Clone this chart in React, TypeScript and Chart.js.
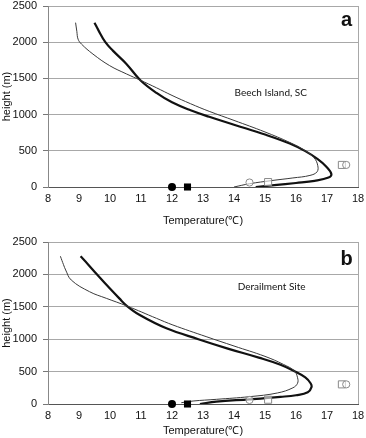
import React, { useEffect, useRef } from "react";
import { Chart, registerables } from "chart.js";

Chart.register(...registerables);

// ---- axis settings ----
const xMin = 8;
const xMax = 18;
const xStep = 1;
const yMin = 0;
const yMax = 2500;
const yStep = 500;
const xTitle = "Temperature(℃)";
const yTitle = "height (m)";

// ---- panel a: Beech Island, SC ----
const aThinT = [8.89, 8.93, 8.97, 9.08, 9.45, 9.99, 10.53, 10.98, 11.5, 12.0, 12.6, 13.2, 14.0, 15.0, 15.8, 16.3, 16.58, 16.7, 16.68, 16.45, 15.9, 15.2, 14.5, 14.0];
const aThinH = [2270, 2150, 2042, 1974, 1836, 1676, 1562, 1475, 1370, 1265, 1150, 1045, 920, 760, 615, 500, 405, 300, 210, 160, 125, 88, 45, 0];
const aThickT = [9.5, 9.62, 9.85, 10.1, 10.53, 10.98, 11.5, 12.0, 12.6, 13.2, 14.0, 15.0, 15.8, 16.3, 16.7, 16.98, 17.14, 17.05, 16.6, 16.0, 15.3, 14.7];
const aThickH = [2270, 2170, 2000, 1880, 1700, 1475, 1300, 1170, 1060, 970, 860, 725, 600, 495, 385, 280, 180, 130, 85, 55, 25, 0];
const aOpenCircleT = [14.5, 17.62];
const aOpenCircleH = [62, 305];
const aOpenSquareT = [15.1, 17.48];
const aOpenSquareH = [68, 305];

// ---- panel b: Derailment Site ----
const bThinT = [8.4, 8.5, 8.57, 8.75, 9.34, 9.88, 10.55, 11.5, 12.03, 13.1, 14.0, 15.0, 15.6, 15.95, 16.05, 16.05, 15.9, 15.4, 14.5, 13.43, 12.68, 12.3];
const bThinH = [2280, 2150, 2068, 1913, 1733, 1631, 1512, 1322, 1219, 1040, 895, 735, 610, 510, 405, 320, 250, 170, 113, 72, 46, 20];
const bThickT = [9.05, 9.3, 9.56, 9.99, 10.3, 10.55, 10.96, 11.82, 12.85, 13.8, 14.8, 15.5, 15.95, 16.3, 16.47, 16.5, 16.38, 16.0, 15.5, 14.5, 13.43, 12.9];
const bThickH = [2280, 2150, 2010, 1785, 1630, 1512, 1373, 1168, 1000, 855, 715, 605, 505, 410, 320, 260, 180, 135, 110, 72, 36, 0];
const bOpenCircleT = [14.5, 17.62];
const bOpenCircleH = [62, 303];
const bOpenSquareT = [15.1, 17.48];
const bOpenSquareH = [66, 303];

// ---- observed surface values (both panels) ----
const solidCircleT = [12.0];
const solidCircleH = [0];
const solidSquareT = [12.5];
const solidSquareH = [0];

// ---- labels ----
const aLetter = "a";
const aSite = "Beech Island, SC";
const bLetter = "b";
const bSite = "Derailment Site";
const aLetterPos = [17.63, 2225];
const aSitePos = [14.02, 1305];
const bLetterPos = [17.63, 2145];
const bSitePos = [14.12, 1810];

const zip = (t: number[], h: number[]) => t.map((v, i) => ({ x: v, y: h[i] }));

const panelTextPlugin = {
  id: "panelText",
  afterDatasetsDraw(chart: any, _args: any, opts: any) {
    const { ctx } = chart;
    const x = chart.scales.x;
    const y = chart.scales.y;
    ctx.save();
    ctx.fillStyle = "#111";
    ctx.font = 'bold 20px "Liberation Sans", Arial, sans-serif';
    ctx.textAlign = "center";
    ctx.textBaseline = "alphabetic";
    ctx.fillText(opts.letter, x.getPixelForValue(opts.letterPos[0]), y.getPixelForValue(opts.letterPos[1]));
    ctx.font = '10px Lato, "Open Sans", sans-serif';
    ctx.textAlign = "left";
    ctx.textBaseline = "middle";
    ctx.fillText(opts.site, x.getPixelForValue(opts.sitePos[0]), y.getPixelForValue(opts.sitePos[1]));
    ctx.restore();
  },
};

type PanelProps = {
  height: number;
  padTop: number;
  plotBottom: number;
  thinT: number[];
  thinH: number[];
  thickT: number[];
  thickH: number[];
  ocT: number[];
  ocH: number[];
  osT: number[];
  osH: number[];
  letter: string;
  letterPos: number[];
  site: string;
  sitePos: number[];
};

const tickFont = { family: '"Liberation Sans", Arial, sans-serif', size: 11 };

function Panel(p: PanelProps) {
  const ref = useRef<HTMLCanvasElement>(null);
  useEffect(() => {
    const xHeight = p.height - p.plotBottom;
    const chart = new Chart(ref.current as HTMLCanvasElement, {
      type: "scatter",
      data: {
        datasets: [
          {
            data: zip(solidCircleT, solidCircleH),
            pointStyle: "circle",
            pointRadius: 4,
            backgroundColor: "#000",
            borderColor: "#000",
            borderWidth: 0,
            clip: false,
            order: 0,
          },
          {
            data: zip(solidSquareT, solidSquareH),
            pointStyle: "rect",
            pointRadius: 5,
            backgroundColor: "#000",
            borderColor: "#000",
            borderWidth: 0,
            clip: false,
            order: 0,
          },
          {
            data: zip(p.ocT, p.ocH),
            pointStyle: "circle",
            pointRadius: 3.6,
            backgroundColor: "rgba(255,255,255,0.6)",
            borderColor: "#8a8a8a",
            borderWidth: 1,
            clip: false,
            order: 0,
          },
          {
            data: zip(p.osT, p.osH),
            pointStyle: "rect",
            pointRadius: 5,
            backgroundColor: "rgba(255,255,255,0.6)",
            borderColor: "#8a8a8a",
            borderWidth: 1,
            clip: false,
            order: 0,
          },
          {
            data: zip(p.thinT, p.thinH),
            showLine: true,
            pointRadius: 0,
            borderColor: "#3a3a3a",
            borderWidth: 1,
            tension: 0.4,
            fill: false,
            order: 1,
          },
          {
            data: zip(p.thickT, p.thickH),
            showLine: true,
            pointRadius: 0,
            borderColor: "#111",
            borderWidth: 2.2,
            tension: 0.4,
            fill: false,
            order: 1,
          },
        ],
      },
      options: {
        animation: false,
        responsive: false,
        events: [],
        layout: { padding: { top: p.padTop, right: 8, left: 0, bottom: 0 } },
        plugins: {
          legend: { display: false },
          tooltip: { enabled: false },
          panelText: { letter: p.letter, letterPos: p.letterPos, site: p.site, sitePos: p.sitePos },
        } as any,
        scales: {
          x: {
            type: "linear",
            min: xMin,
            max: xMax,
            ticks: {
              stepSize: xStep,
              color: "#111",
              font: tickFont,
              padding: 5,
              maxRotation: 0,
              callback: (v: any) => String(v),
            },
            grid: {
              drawTicks: false,
              color: (c: any) => (c.tick && c.tick.value === xMax ? "#a8a8a8" : "rgba(0,0,0,0)"),
              lineWidth: 1,
            },
            border: { color: "#555", width: 1 },
            title: {
              display: true,
              text: xTitle,
              color: "#111",
              font: { family: '"Liberation Sans", Arial, sans-serif', size: 11 },
              padding: { top: 0, bottom: 0 },
            },
            afterFit: (s: any) => {
              s.height = xHeight;
              s.paddingLeft = 0;
              s.paddingRight = 0;
            },
          },
          y: {
            type: "linear",
            min: yMin,
            max: yMax,
            ticks: {
              stepSize: yStep,
              color: "#111",
              font: tickFont,
              padding: 6,
              callback: (v: any) => String(v),
            },
            grid: {
              color: "#a8a8a8",
              lineWidth: 1,
              drawTicks: true,
              tickLength: 5,
              tickColor: "#777",
            },
            border: { color: "#888", width: 1 },
            title: {
              display: true,
              text: yTitle,
              color: "#111",
              font: { family: '"Liberation Sans", Arial, sans-serif', size: 11 },
              padding: 0,
            },
            afterFit: (s: any) => {
              s.width = 48;
              s.paddingTop = 0;
              s.paddingBottom = 0;
            },
          },
        },
      },
      plugins: [panelTextPlugin as any],
    } as any);
    return () => chart.destroy();
  }, []);
  return (
    <canvas
      ref={ref}
      width={366}
      height={p.height}
      style={{ display: "block", width: 366, height: p.height }}
    />
  );
}

export default function App() {
  return (
    <div style={{ position: "absolute", left: 0, top: 0, width: 366, height: 438, background: "#fff" }}>
      <Panel
        height={228}
        padTop={5}
        plotBottom={187}
        thinT={aThinT}
        thinH={aThinH}
        thickT={aThickT}
        thickH={aThickH}
        ocT={aOpenCircleT}
        ocH={aOpenCircleH}
        osT={aOpenSquareT}
        osH={aOpenSquareH}
        letter={aLetter}
        letterPos={aLetterPos}
        site={aSite}
        sitePos={aSitePos}
      />
      <Panel
        height={210}
        padTop={14}
        plotBottom={176}
        thinT={bThinT}
        thinH={bThinH}
        thickT={bThickT}
        thickH={bThickH}
        ocT={bOpenCircleT}
        ocH={bOpenCircleH}
        osT={bOpenSquareT}
        osH={bOpenSquareH}
        letter={bLetter}
        letterPos={bLetterPos}
        site={bSite}
        sitePos={bSitePos}
      />
    </div>
  );
}
